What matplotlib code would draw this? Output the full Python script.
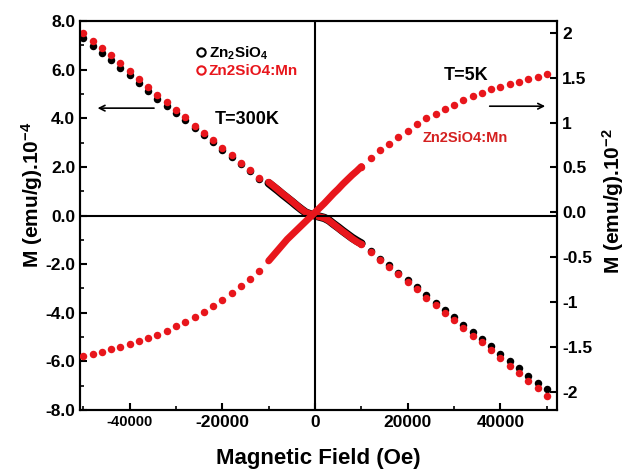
import numpy as np
import matplotlib.pyplot as plt
from matplotlib.lines import Line2D

plt.rcParams['font.family'] = ['Liberation Sans', 'DejaVu Sans']
plt.rcParams['font.weight'] = 'bold'
plt.rcParams['mathtext.fontset'] = 'custom'
plt.rcParams['mathtext.rm'] = 'Liberation Sans:bold'
plt.rcParams['mathtext.bf'] = 'Liberation Sans:bold'
plt.rcParams['mathtext.it'] = 'Liberation Sans:bold'

# field grids (Oe)
h_neg = np.arange(-50000, -10000, 2000)     # -50000 .. -12000
h_mid = np.arange(-10000, 10001, 1000)      # dense part
h_pos = np.arange(10000, 50001, 2000)       # 10000 .. 50000

# T=300K, left axis (x1e-4 emu/g)
zn_300_neg = [7.29, 6.98, 6.68, 6.40, 6.07, 5.77, 5.44, 5.12, 4.81, 4.51,
              4.22, 3.93, 3.58, 3.30, 3.04, 2.71, 2.42, 2.12, 1.83, 1.52]
zn_300_mid = [1.33, 1.18, 1.03, 0.87, 0.72, 0.57, 0.41, 0.26, 0.12, 0.05, 0.0,
              -0.05, -0.10, -0.20, -0.35, -0.49, -0.64, -0.78, -0.92, -1.04, -1.15]
zn_300_pos = [-1.15, -1.46, -1.78, -2.04, -2.35, -2.66, -2.95, -3.28, -3.58, -3.90,
              -4.17, -4.50, -4.80, -5.06, -5.37, -5.70, -5.99, -6.28, -6.59, -6.88, -7.14]

mn_300_neg = [7.50, 7.19, 6.88, 6.60, 6.26, 5.95, 5.61, 5.28, 4.96, 4.65,
              4.35, 4.05, 3.69, 3.39, 3.12, 2.78, 2.48, 2.17, 1.87, 1.55]
mn_300_mid = [1.37, 1.22, 1.06, 0.90, 0.75, 0.59, 0.43, 0.27, 0.13, 0.06, 0.0,
              -0.05, -0.10, -0.21, -0.36, -0.51, -0.66, -0.80, -0.95, -1.08, -1.19]
mn_300_pos = [-1.19, -1.51, -1.83, -2.10, -2.42, -2.74, -3.04, -3.38, -3.69, -4.02,
              -4.30, -4.64, -4.95, -5.22, -5.54, -5.88, -6.18, -6.48, -6.80, -7.10, -7.41]

# T=5K, right axis (x1e-2 emu/g)
mn_5_neg = [-1.60, -1.575, -1.55, -1.525, -1.495, -1.47, -1.43, -1.395, -1.36, -1.32,
            -1.27, -1.22, -1.17, -1.105, -1.04, -0.975, -0.90, -0.82, -0.74, -0.65]
mn_5_mid = [-0.54, -0.48, -0.42, -0.36, -0.30, -0.25, -0.20, -0.15, -0.10, -0.05, 0.0,
            0.05, 0.10, 0.155, 0.21, 0.26, 0.315, 0.365, 0.415, 0.46, 0.51]
mn_5_pos = [0.51, 0.60, 0.69, 0.76, 0.84, 0.91, 0.98, 1.05, 1.10, 1.15,
            1.20, 1.25, 1.29, 1.33, 1.37, 1.40, 1.43, 1.455, 1.48, 1.51, 1.54]

left_ticks = [-8, -6, -4, -2, 0, 2, 4, 6, 8]
right_ticks = [-2, -1.5, -1, -0.5, 0, 0.5, 1, 1.5, 2]
right_labels = ['-2', '-1.5', '-1', '-0.5', '0.0', '0.5', '1', '1.5', '2']
x_ticks = [-40000, -20000, 0, 20000, 40000]

red = '#e8161c'
ms = 5.4

fig = plt.figure(figsize=(6.27, 4.69), dpi=100)
ax = fig.add_axes([0.1276, 0.1258, 0.7608, 0.8294])
ax2 = ax.twinx()

# sparse points as dots, dense low-field part as a thick band
ax.plot(h_neg, zn_300_neg, 'o', color='black', ms=ms, mew=0, zorder=2)
ax.plot(h_pos, zn_300_pos, 'o', color='black', ms=ms, mew=0, zorder=2)
ax.plot(h_mid, zn_300_mid, '-', color='black', lw=6, solid_capstyle='round', zorder=2)
ax.plot(h_neg, mn_300_neg, 'o', color=red, ms=ms, mew=0, zorder=3)
ax.plot(h_pos, mn_300_pos, 'o', color=red, ms=ms, mew=0, zorder=3)
ax.plot(h_mid, mn_300_mid, '-', color=red, lw=5, solid_capstyle='round', zorder=3)

ax2.plot(h_neg, mn_5_neg, 'o', color=red, ms=ms, mew=0, zorder=3)
ax2.plot(h_pos, mn_5_pos, 'o', color=red, ms=ms, mew=0, zorder=3)
ax2.plot(h_mid, mn_5_mid, '-', color=red, lw=5, solid_capstyle='round', zorder=3)

ax.axhline(0, color='black', lw=1.5, zorder=4)
ax.axvline(0, color='black', lw=1.5, zorder=4)

ax.set_xlim(-50700, 52200)
ax.set_ylim(-8, 8)
ax2.set_ylim(-2.2, 2.13)

ax.set_xticks(x_ticks)
ax.set_xticks(np.arange(-50000, 50001, 10000), minor=True)
ax.set_xticklabels([str(v) for v in x_ticks])
ax.set_yticks(left_ticks)
ax.set_yticks(np.arange(-7, 8, 2), minor=True)
ax.set_yticklabels(['%.1f' % v for v in left_ticks])
ax2.set_yticks(right_ticks)
ax2.set_yticklabels(right_labels)

ax.tick_params(axis='both', which='major', direction='in', length=5, width=1.5,
               labelsize=12.5, top=False)
ax.tick_params(axis='both', which='minor', direction='in', length=3, width=1.2, top=False)
ax2.tick_params(axis='y', which='major', direction='in', length=5, width=1.5, labelsize=12.5)
ax.get_xticklabels()[0].set_fontsize(10.5)

for a in (ax, ax2):
    for s in a.spines.values():
        s.set_linewidth(1.5)

ax.set_xlabel('Magnetic Field (Oe)', fontsize=16, fontweight='bold', labelpad=13)
ax.set_ylabel('M (emu/g).10$^{-4}$', fontsize=15, fontweight='bold')
ax2.set_ylabel('M (emu/g).10$^{-2}$', fontsize=15, fontweight='bold')
ax.yaxis.set_label_coords(-0.074, 0.553)
ax2.yaxis.set_label_coords(1.09, 0.537)

handles = [Line2D([], [], ls='none', marker='o', mfc='none', mec='black', mew=1.5, ms=6),
           Line2D([], [], ls='none', marker='o', mfc='none', mec=red, mew=1.5, ms=6)]
leg = ax.legend(handles, ['Zn$_2$SiO$_4$', 'Zn2SiO4:Mn'],
                loc='upper left', bbox_to_anchor=(0.215, 0.975), frameon=False,
                handlelength=0.6, handletextpad=0.2, labelspacing=0.15,
                prop={'size': 11, 'weight': 'bold'})
leg.get_texts()[1].set_color(red)

ax.text(0.35, 0.748, 'T=300K', transform=ax.transAxes, ha='center', va='center',
        fontsize=13, fontweight='bold')
ax.text(0.809, 0.861, 'T=5K', transform=ax.transAxes, ha='center', va='center',
        fontsize=13, fontweight='bold')
ax.text(0.807, 0.699, 'Zn2SiO4:Mn', transform=ax.transAxes, ha='center', va='center',
        fontsize=10.5, fontweight='bold', color='#d42020')

ax.annotate('', xy=(0.031, 0.776), xytext=(0.161, 0.776), xycoords='axes fraction',
            arrowprops=dict(arrowstyle='->', color='black', lw=1.2))
ax.annotate('', xy=(0.981, 0.781), xytext=(0.853, 0.781), xycoords='axes fraction',
            arrowprops=dict(arrowstyle='->', color='black', lw=1.2))

fig.savefig('out.png', dpi=100)
